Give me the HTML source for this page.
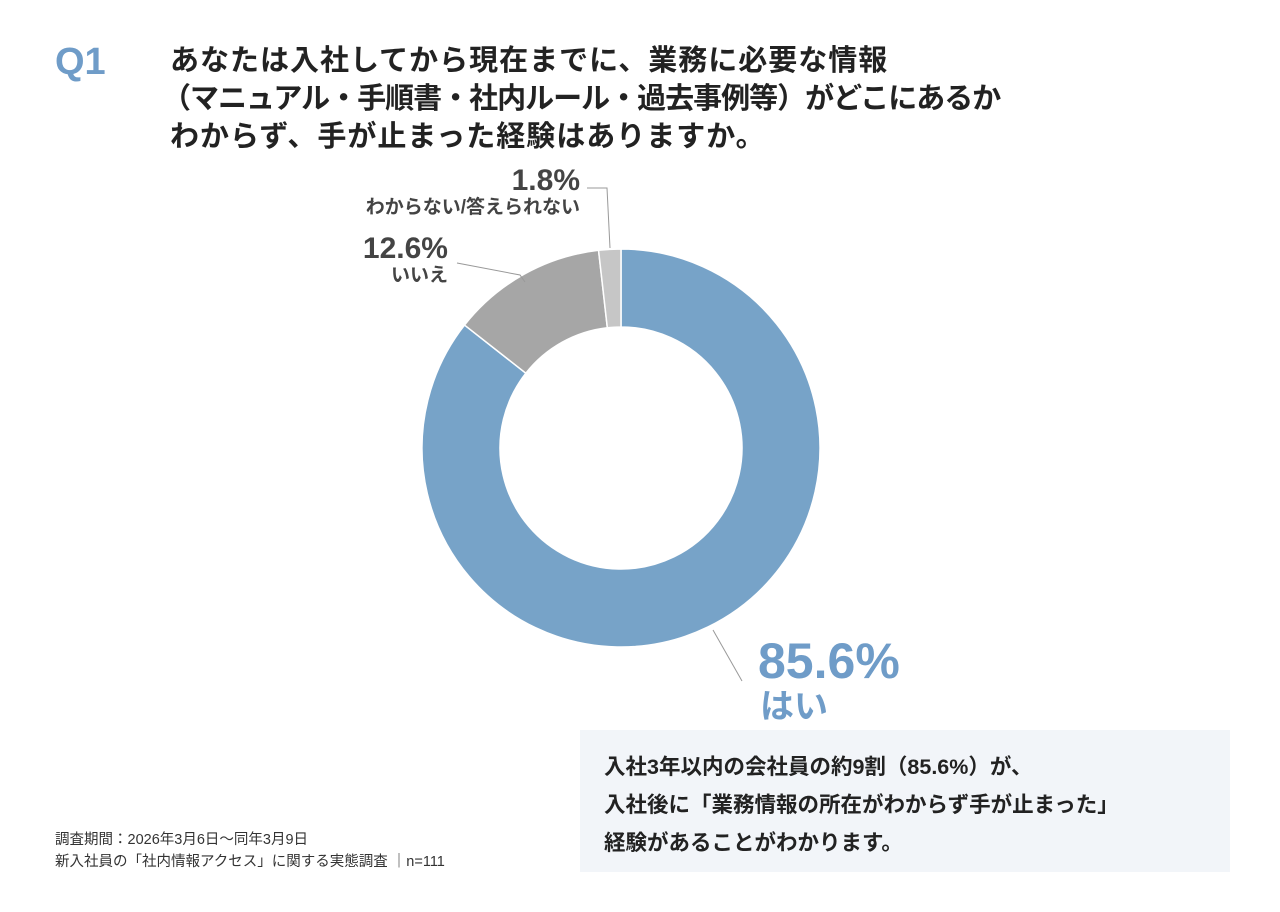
<!DOCTYPE html>
<html><head><meta charset="utf-8">
<style>
body{margin:0;width:1280px;height:912px;background:#fff;overflow:hidden;font-family:"Liberation Sans","Noto Sans CJK JP",sans-serif;}
svg{position:absolute;left:0;top:0}
</style></head><body>
<svg width="1280" height="912">
<text x="55" y="74" font-size="38" font-weight="bold" fill="#6f9cc8">Q1</text>
<g font-size="29" font-weight="bold" fill="#222">
<text x="170" y="70" letter-spacing="1">あなたは入社してから現在までに、業務に必要な情報</text>
<text x="162" y="108" letter-spacing="-1">（マニュアル・手順書・社内ルール・過去事例等）がどこにあるか</text>
<text x="170" y="146" letter-spacing="1">わからず、手が止まった経験はありますか。</text>
</g>
<g id="donut"></g>
<g fill="none" stroke="#999" stroke-width="1">
<polyline points="587,188 607,188 610,248"/>
<polyline points="457,263 520,275 525,282"/>
<polyline points="742,681 713,630"/>
</g>
<g text-anchor="end" fill="#444" font-weight="bold">
<text x="580" y="190" font-size="30">1.8%</text>
<text x="580" y="213" font-size="19">わからない/答えられない</text>
<text x="448" y="258" font-size="30">12.6%</text>
<text x="448" y="281" font-size="19">いいえ</text>
</g>
<text x="758" y="678" font-size="50" font-weight="bold" fill="#6f9cc8">85.6%</text>
<text x="760" y="718" font-size="34" font-weight="bold" fill="#6f9cc8">はい</text>
<rect x="580" y="730" width="650" height="142" fill="#f2f5f9"/>
<g font-size="21.5" font-weight="bold" fill="#222">
<text x="604" y="774">入社3年以内の会社員の約9割（85.6%）が、</text>
<text x="604" y="812">入社後に「業務情報の所在がわからず手が止まった」</text>
<text x="604" y="850">経験があることがわかります。</text>
</g>
<g font-size="14.5" fill="#333">
<text x="55" y="844">調査期間：2026年3月6日～同年3月9日</text>
<text x="55" y="866">新入社員の「社内情報アクセス」に関する実態調査 ｜n=111</text>
</g>
</svg>
<script>
const categories=["はい","いいえ","わからない/答えられない"];
const values=[85.6,12.6,1.8];
const colors=["#77a3c8","#a6a6a6","#c6c6c6"];
const cx=621,cy=448,R=199,r=121;
const g=document.getElementById('donut');
const total=values.reduce((a,b)=>a+b,0);
let a0=0;
function pt(rad,ang){return [cx+rad*Math.sin(ang),cy-rad*Math.cos(ang)];}
values.forEach((v,i)=>{
 const a1=a0+v/total*2*Math.PI;
 const large=(a1-a0)>Math.PI?1:0;
 const p1=pt(R,a0),p2=pt(R,a1),p3=pt(r,a1),p4=pt(r,a0);
 const d=`M${p1[0]},${p1[1]} A${R},${R} 0 ${large} 1 ${p2[0]},${p2[1]} L${p3[0]},${p3[1]} A${r},${r} 0 ${large} 0 ${p4[0]},${p4[1]} Z`;
 const p=document.createElementNS('http://www.w3.org/2000/svg','path');
 p.setAttribute('d',d);p.setAttribute('fill',colors[i]);p.setAttribute('stroke','#fff');p.setAttribute('stroke-width','1.5');
 
 
 g.appendChild(p);
 a0=a1;
});
</script>
</body></html>
